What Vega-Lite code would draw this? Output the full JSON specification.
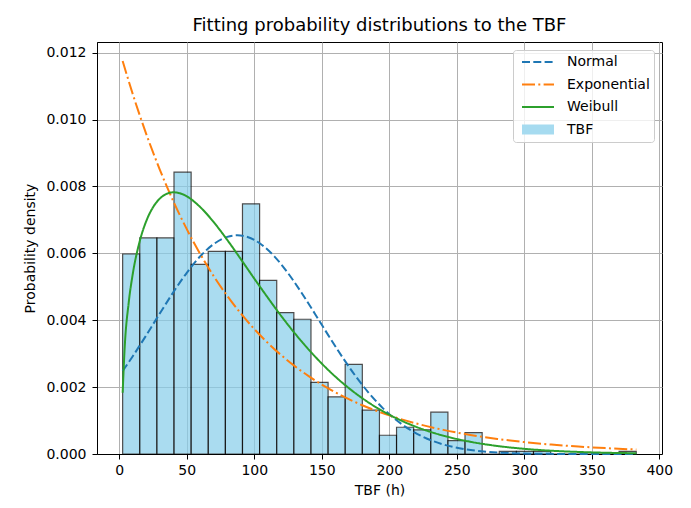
{
  "$schema": "https://vega.github.io/schema/vega-lite/v6.json",
  "width": 565,
  "height": 412,
  "autosize": {"type": "none"},
  "padding": {"left": 97, "top": 42, "right": 29, "bottom": 54},
  "background": "white",
  "title": {"text": "Fitting probability distributions to the TBF", "fontSize": 18, "font": "DejaVu Sans", "fontWeight": "normal", "color": "#000", "anchor": "middle", "offset": 7},
  "config": {
    "font": "DejaVu Sans",
    "view": {"stroke": "#000", "strokeWidth": 1},
    "axis": {"labelFontSize": 14, "labelColor": "#000", "labelFont": "DejaVu Sans", "titleFont": "DejaVu Sans", "titleFontSize": 14, "titleFontWeight": "normal", "titleColor": "#000", "gridColor": "#b0b0b0", "gridWidth": 1, "gridOpacity": 1, "domainColor": "#000", "tickColor": "#000", "tickSize": 5, "labelPadding": 4, "zindex": 1}
  },
  "datasets": {
    "bins": [
      {"x0": 2.5, "x1": 15.18, "density": 0.00598},
      {"x0": 15.18, "x1": 27.86, "density": 0.00646},
      {"x0": 27.86, "x1": 40.54, "density": 0.00646},
      {"x0": 40.54, "x1": 53.22, "density": 0.00843},
      {"x0": 53.22, "x1": 65.9, "density": 0.00567},
      {"x0": 65.9, "x1": 78.58, "density": 0.00606},
      {"x0": 78.58, "x1": 91.26, "density": 0.00606},
      {"x0": 91.26, "x1": 103.94, "density": 0.00748},
      {"x0": 103.94, "x1": 116.62, "density": 0.00519},
      {"x0": 116.62, "x1": 129.3, "density": 0.00423},
      {"x0": 129.3, "x1": 141.98, "density": 0.00403},
      {"x0": 141.98, "x1": 154.66, "density": 0.00214},
      {"x0": 154.66, "x1": 167.34, "density": 0.00171},
      {"x0": 167.34, "x1": 180.02, "density": 0.00268},
      {"x0": 180.02, "x1": 192.7, "density": 0.00131},
      {"x0": 192.7, "x1": 205.38, "density": 0.00056},
      {"x0": 205.38, "x1": 218.06, "density": 0.0008},
      {"x0": 218.06, "x1": 230.74, "density": 0.00072},
      {"x0": 230.74, "x1": 243.42, "density": 0.00125},
      {"x0": 243.42, "x1": 256.1, "density": 0.0004},
      {"x0": 256.1, "x1": 268.78, "density": 0.00064},
      {"x0": 268.78, "x1": 281.46, "density": 0},
      {"x0": 281.46, "x1": 294.14, "density": 0.00008},
      {"x0": 294.14, "x1": 306.82, "density": 0.00008},
      {"x0": 306.82, "x1": 319.5, "density": 0.00008},
      {"x0": 319.5, "x1": 332.18, "density": 0},
      {"x0": 332.18, "x1": 344.86, "density": 0},
      {"x0": 344.86, "x1": 357.54, "density": 0},
      {"x0": 357.54, "x1": 370.22, "density": 0},
      {"x0": 370.22, "x1": 382.9, "density": 0.00008}
    ],
    "curves": [
      {"dist": "Normal", "x": 2.5, "y": 0.002483},
      {"dist": "Normal", "x": 10, "y": 0.002924},
      {"dist": "Normal", "x": 20, "y": 0.003552},
      {"dist": "Normal", "x": 30, "y": 0.004201},
      {"dist": "Normal", "x": 40, "y": 0.004836},
      {"dist": "Normal", "x": 50, "y": 0.005419},
      {"dist": "Normal", "x": 60, "y": 0.005912},
      {"dist": "Normal", "x": 70, "y": 0.006279},
      {"dist": "Normal", "x": 80, "y": 0.006492},
      {"dist": "Normal", "x": 87.4, "y": 0.00654},
      {"dist": "Normal", "x": 95, "y": 0.00649},
      {"dist": "Normal", "x": 105, "y": 0.006273},
      {"dist": "Normal", "x": 115, "y": 0.005904},
      {"dist": "Normal", "x": 125, "y": 0.005409},
      {"dist": "Normal", "x": 135, "y": 0.004823},
      {"dist": "Normal", "x": 145, "y": 0.004188},
      {"dist": "Normal", "x": 155, "y": 0.003539},
      {"dist": "Normal", "x": 165, "y": 0.002912},
      {"dist": "Normal", "x": 175, "y": 0.002332},
      {"dist": "Normal", "x": 185, "y": 0.001818},
      {"dist": "Normal", "x": 195, "y": 0.00138},
      {"dist": "Normal", "x": 210, "y": 0.000868},
      {"dist": "Normal", "x": 225, "y": 0.000514},
      {"dist": "Normal", "x": 240, "y": 0.000286},
      {"dist": "Normal", "x": 255, "y": 0.00015},
      {"dist": "Normal", "x": 270, "y": 0.000074},
      {"dist": "Normal", "x": 290, "y": 0.000026},
      {"dist": "Normal", "x": 310, "y": 0.000008},
      {"dist": "Normal", "x": 330, "y": 0.000002},
      {"dist": "Normal", "x": 350, "y": 0.0000006},
      {"dist": "Normal", "x": 383, "y": 0},
      {"dist": "Exponential", "x": 2.5, "y": 0.01175},
      {"dist": "Exponential", "x": 10, "y": 0.01076},
      {"dist": "Exponential", "x": 20, "y": 0.009567},
      {"dist": "Exponential", "x": 30, "y": 0.008506},
      {"dist": "Exponential", "x": 40, "y": 0.007562},
      {"dist": "Exponential", "x": 50, "y": 0.006723},
      {"dist": "Exponential", "x": 60, "y": 0.005978},
      {"dist": "Exponential", "x": 70, "y": 0.005315},
      {"dist": "Exponential", "x": 80, "y": 0.004726},
      {"dist": "Exponential", "x": 90, "y": 0.004202},
      {"dist": "Exponential", "x": 100, "y": 0.003736},
      {"dist": "Exponential", "x": 110, "y": 0.003322},
      {"dist": "Exponential", "x": 120, "y": 0.002954},
      {"dist": "Exponential", "x": 130, "y": 0.002627},
      {"dist": "Exponential", "x": 140, "y": 0.002335},
      {"dist": "Exponential", "x": 150, "y": 0.002076},
      {"dist": "Exponential", "x": 160, "y": 0.001846},
      {"dist": "Exponential", "x": 170, "y": 0.001641},
      {"dist": "Exponential", "x": 180, "y": 0.001459},
      {"dist": "Exponential", "x": 190, "y": 0.001297},
      {"dist": "Exponential", "x": 200, "y": 0.001154},
      {"dist": "Exponential", "x": 220, "y": 0.000912},
      {"dist": "Exponential", "x": 240, "y": 0.000721},
      {"dist": "Exponential", "x": 260, "y": 0.00057},
      {"dist": "Exponential", "x": 280, "y": 0.000451},
      {"dist": "Exponential", "x": 300, "y": 0.000356},
      {"dist": "Exponential", "x": 320, "y": 0.000282},
      {"dist": "Exponential", "x": 340, "y": 0.000223},
      {"dist": "Exponential", "x": 360, "y": 0.000176},
      {"dist": "Exponential", "x": 383, "y": 0.000134},
      {"dist": "Weibull", "x": 2.5, "y": 0.001832},
      {"dist": "Weibull", "x": 4, "y": 0.003179},
      {"dist": "Weibull", "x": 7, "y": 0.004532},
      {"dist": "Weibull", "x": 10, "y": 0.005386},
      {"dist": "Weibull", "x": 15, "y": 0.006341},
      {"dist": "Weibull", "x": 20, "y": 0.006966},
      {"dist": "Weibull", "x": 25, "y": 0.007378},
      {"dist": "Weibull", "x": 30, "y": 0.007637},
      {"dist": "Weibull", "x": 35, "y": 0.007777},
      {"dist": "Weibull", "x": 40, "y": 0.007825},
      {"dist": "Weibull", "x": 45, "y": 0.007796},
      {"dist": "Weibull", "x": 50, "y": 0.007705},
      {"dist": "Weibull", "x": 60, "y": 0.007382},
      {"dist": "Weibull", "x": 70, "y": 0.006931},
      {"dist": "Weibull", "x": 80, "y": 0.0064},
      {"dist": "Weibull", "x": 90, "y": 0.005829},
      {"dist": "Weibull", "x": 100, "y": 0.005245},
      {"dist": "Weibull", "x": 110, "y": 0.004675},
      {"dist": "Weibull", "x": 120, "y": 0.004125},
      {"dist": "Weibull", "x": 130, "y": 0.00361},
      {"dist": "Weibull", "x": 140, "y": 0.003136},
      {"dist": "Weibull", "x": 150, "y": 0.002704},
      {"dist": "Weibull", "x": 160, "y": 0.002315},
      {"dist": "Weibull", "x": 170, "y": 0.001971},
      {"dist": "Weibull", "x": 180, "y": 0.001668},
      {"dist": "Weibull", "x": 190, "y": 0.001403},
      {"dist": "Weibull", "x": 200, "y": 0.001175},
      {"dist": "Weibull", "x": 215, "y": 0.000891},
      {"dist": "Weibull", "x": 230, "y": 0.000669},
      {"dist": "Weibull", "x": 245, "y": 0.000497},
      {"dist": "Weibull", "x": 260, "y": 0.000366},
      {"dist": "Weibull", "x": 280, "y": 0.00024},
      {"dist": "Weibull", "x": 300, "y": 0.000155},
      {"dist": "Weibull", "x": 320, "y": 0.000098},
      {"dist": "Weibull", "x": 340, "y": 0.000062},
      {"dist": "Weibull", "x": 360, "y": 0.000038},
      {"dist": "Weibull", "x": 383, "y": 0.000022}
    ]
  },
  "layer": [
    {
      "data": {"name": "bins"},
      "mark": {"type": "bar", "fill": "#87ceeb", "stroke": "#000", "strokeWidth": 1.2, "opacity": 0.7},
      "encoding": {
        "x": {"field": "x0", "type": "quantitative", "scale": {"domain": [-16.5, 402], "nice": false, "zero": false}, "axis": {"values": [0, 50, 100, 150, 200, 250, 300, 350, 400], "format": "d", "title": "TBF (h)", "titlePadding": 6}},
        "x2": {"field": "x1"},
        "y": {"field": "density", "type": "quantitative", "scale": {"domain": [0, 0.01232], "nice": false}, "axis": {"values": [0, 0.002, 0.004, 0.006, 0.008, 0.010, 0.012], "format": ".3f", "title": "Probability density", "titlePadding": 8, "labelPadding": 6}},
        "y2": {"datum": 0}
      }
    },
    {
      "data": {"name": "curves"},
      "mark": {"type": "line", "interpolate": "monotone", "strokeCap": "butt"},
      "encoding": {
        "x": {"field": "x", "type": "quantitative"},
        "y": {"field": "y", "type": "quantitative"},
        "color": {
          "field": "dist",
          "type": "nominal",
          "title": null,
          "scale": {"domain": ["Normal", "Exponential", "Weibull", "TBF"], "range": ["#1f77b4", "#ff7f0e", "#2ca02c", "#a6dbf0"]},
          "legend": {
            "title": null,
            "orient": "top-right",
            "offset": 8,
            "padding": 4,
            "fillColor": "rgba(255,255,255,0.8)",
            "strokeColor": "#cccccc",
            "cornerRadius": 3,
            "labelFontSize": 14,
            "labelFont": "DejaVu Sans",
            "labelColor": "#000",
            "symbolType": "stroke",
            "symbolSize": 1024,
            "clipHeight": 16,
            "labelOffset": 8,
            "rowPadding": 6.5
          }
        },
        "strokeDash": {
          "field": "dist",
          "type": "nominal",
          "title": null,
          "scale": {"domain": ["Normal", "Exponential", "Weibull", "TBF"], "range": [[8, 3.3], [13, 3.3, 2, 3.3], [1, 0], [1, 0]]}
        },
        "strokeWidth": {
          "field": "dist",
          "type": "nominal",
          "title": null,
          "scale": {"type": "ordinal", "domain": ["Normal", "Exponential", "Weibull", "TBF"], "range": [2, 2, 2, 10]}
        }
      }
    }
  ]
}
